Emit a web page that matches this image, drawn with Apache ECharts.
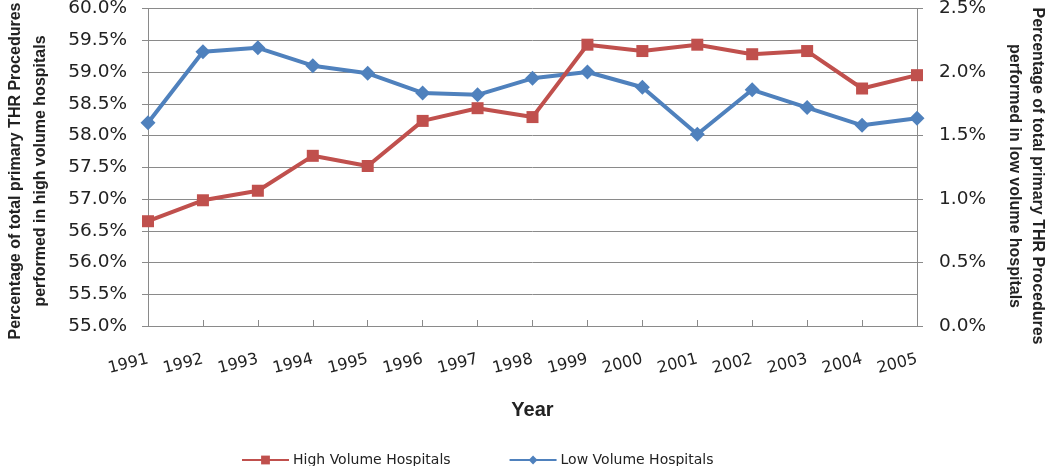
<!DOCTYPE html>
<html>
<head>
<meta charset="utf-8">
<script src="https://cdn.jsdelivr.net/npm/echarts@6/dist/echarts.min.js"></script>
<style>html,body{margin:0;padding:0;background:#fff}#c{width:1050px;height:466px}</style>
</head>
<body>
<div id="c"></div>
<script>
const years = ['1991','1992','1993','1994','1995','1996','1997','1998','1999','2000','2001','2002','2003','2004','2005'];
const highVolume = [56.65, 56.98, 57.13, 57.68, 57.52, 58.23, 58.43, 58.29, 59.43, 59.33, 59.43, 59.28, 59.33, 58.74, 58.95];
const lowVolume = [1.60, 2.16, 2.19, 2.05, 1.99, 1.835, 1.82, 1.95, 2.00, 1.88, 1.51, 1.86, 1.72, 1.58, 1.635];
const leftTitle = 'Percentage of total primary THR Procedures\nperformed in high volume hospitals';
const rightTitle = 'Percentage of total primary THR Procedures\nperformed in low volume hospitals';

const gridColor = '#8a8a8a';
const titleFont = 'bold 16px "Liberation Sans"';
const chart = echarts.init(document.getElementById('c'));
chart.setOption({
  animation: false,
  backgroundColor: '#fff',
  grid: {left: 148, right: 133, top: 8.5, bottom: 140, containLabel: false, outerBoundsMode: 'none'},
  graphic: [{
    type: 'text', x: 28, y: 171, rotation: Math.PI / 2,
    style: {text: leftTitle, font: titleFont, fill: '#222', align: 'center', verticalAlign: 'middle', lineHeight: 25}
  }, {
    type: 'text', x: 1026, y: 176, rotation: -Math.PI / 2,
    style: {text: rightTitle, font: titleFont, fill: '#222', align: 'center', verticalAlign: 'middle', lineHeight: 23}
  }],
  legend: {
    data: ['High Volume Hospitals', 'Low Volume Hospitals'],
    left: 236, top: 448, itemWidth: 47, itemHeight: 11, itemGap: 58,
    textStyle: {fontFamily: 'DejaVu Sans', fontSize: 14, color: '#222', padding: [0, 0, 0, -1]}
  },
  xAxis: {
    type: 'category', data: years, boundaryGap: false,
    name: 'Year', nameLocation: 'middle', nameGap: 74,
    nameTextStyle: {fontFamily: 'Liberation Sans', fontWeight: 'bold', fontSize: 20, color: '#222'},
    axisLine: {lineStyle: {color: gridColor}},
    axisTick: {inside: true, length: 6, interval: 0, lineStyle: {color: gridColor}},
    axisLabel: {rotate: 14, margin: 33, interval: 0, fontFamily: 'DejaVu Sans', fontSize: 16, color: '#222'}
  },
  yAxis: [{
    type: 'value', min: 55, max: 60, interval: 0.5, position: 'left',
    axisLine: {show: true, lineStyle: {color: gridColor}},
    axisTick: {show: true, length: 6, lineStyle: {color: gridColor}},
    splitLine: {lineStyle: {color: gridColor}},
    axisLabel: {margin: 21, fontFamily: 'DejaVu Sans', fontSize: 18.5, color: '#222', formatter: v => v.toFixed(1) + '%'}
  }, {
    type: 'value', min: 0, max: 2.5, interval: 0.5, position: 'right',
    axisLine: {show: true, lineStyle: {color: gridColor}},
    axisTick: {show: true, length: 6, lineStyle: {color: gridColor}},
    splitLine: {show: false},
    axisLabel: {margin: 22, fontFamily: 'DejaVu Sans', fontSize: 18.5, color: '#222', formatter: v => v.toFixed(1) + '%'}
  }],
  series: [{
    name: 'Low Volume Hospitals', type: 'line', yAxisIndex: 1, data: lowVolume,
    symbol: 'diamond', symbolSize: 15, showAllSymbol: true,
    lineStyle: {color: '#4F81BD', width: 4}, itemStyle: {color: '#4F81BD'}
  }, {
    name: 'High Volume Hospitals', type: 'line', yAxisIndex: 0, data: highVolume,
    symbol: 'rect', symbolSize: 12, showAllSymbol: true,
    lineStyle: {color: '#C0504D', width: 4}, itemStyle: {color: '#C0504D'}
  }]
});
</script>
</body>
</html>
